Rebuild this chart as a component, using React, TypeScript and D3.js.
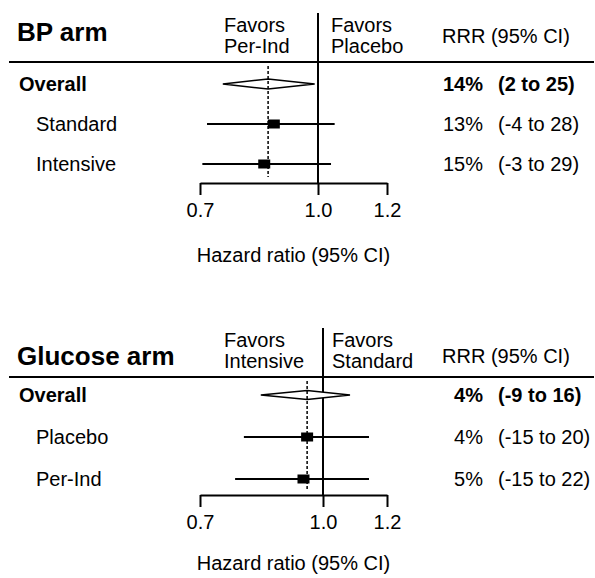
import { useEffect, useRef } from "react";
import * as d3 from "d3";

// BP arm
const bpRows = ["Overall", "Standard", "Intensive"];
const bpHR = [0.86, 0.875, 0.85];
const bpLow = [0.75, 0.715, 0.705];
const bpHigh = [0.99, 1.045, 1.035];
const bpRRR = ["14%", "13%", "15%"];
const bpCI = ["(2 to 25)", "(-4 to 28)", "(-3 to 29)"];

// Glucose arm
const gluRows = ["Overall", "Placebo", "Per-Ind"];
const gluHR = [0.955, 0.955, 0.945];
const gluLow = [0.835, 0.795, 0.775];
const gluHigh = [1.08, 1.14, 1.14];
const gluRRR = ["4%", "4%", "5%"];
const gluCI = ["(-9 to 16)", "(-15 to 20)", "(-15 to 22)"];

const tickValues = [0.7, 1.0, 1.2];

const FONT = "'Liberation Sans', Arial, Helvetica, sans-serif";

interface PanelProps {
    title: string;
    favorLeft: string[];
    favorRight: string[];
    rows: string[];
    hr: number[];
    low: number[];
    high: number[];
    rrr: string[];
    ci: string[];
    xRange: number[];
    titleY: number;
    favorY: number;
    rrrHeadY: number;
    lineY: number;
    vTop: number;
    rowTop: number;
    rowBottom: number;
    axisY: number;
    hazardY: number;
    favorRightX: number;
    diamondH: number;
}

function Panel(p: PanelProps) {
    const axisRef = useRef<SVGGElement>(null);

    const x = d3.scaleLog().domain(tickValues).range(p.xRange);
    const y = d3.scalePoint<string>().domain(p.rows).range([p.rowTop, p.rowBottom]);

    useEffect(() => {
        if (!axisRef.current) return;
        const g = d3.select(axisRef.current);
        g.selectAll("*").remove();
        g.call(
            d3.axisBottom(x)
                .tickValues(tickValues)
                .tickFormat(d3.format(".1f"))
                .tickSize(12)
                .tickSizeOuter(0)
                .tickPadding(8)
        );
        g.select(".domain").attr("stroke", "#000").attr("stroke-width", 2);
        g.selectAll(".tick line").attr("stroke", "#000").attr("stroke-width", 2);
        g.selectAll(".tick text")
            .attr("fill", "#000")
            .attr("font-size", 20)
            .attr("font-family", FONT);
    });

    const overall = p.hr[0];
    const yo = y(p.rows[0])!;
    const h = p.diamondH;
    const diamond = d3.line()([
        [x(p.low[0]), yo],
        [x(overall), yo - h],
        [x(p.high[0]), yo],
        [x(overall), yo + h],
    ]) + "Z";

    return (
        <g fontFamily={FONT} fill="#000">
            <text x={17} y={p.titleY} fontSize={26} fontWeight="bold">{p.title}</text>
            <text x={224} y={p.favorY} fontSize={20}>{p.favorLeft[0]}</text>
            <text x={224} y={p.favorY + 21} fontSize={20}>{p.favorLeft[1]}</text>
            <text x={p.favorRightX} y={p.favorY} fontSize={20}>{p.favorRight[0]}</text>
            <text x={p.favorRightX} y={p.favorY + 21} fontSize={20}>{p.favorRight[1]}</text>
            <text x={442} y={p.rrrHeadY} fontSize={20}>RRR (95% CI)</text>

            <line x1={9} x2={594} y1={p.lineY} y2={p.lineY} stroke="#000" strokeWidth={2} />
            <line x1={x(1)} x2={x(1)} y1={p.vTop} y2={p.axisY} stroke="#000" strokeWidth={2} />

            <path d={diamond} fill="#fff" stroke="#000" strokeWidth={1.5} />

            {/* dashed overall reference, drawn over the diamond */}
            <line
                x1={x(overall)} x2={x(overall)}
                y1={p.lineY + 4} y2={p.axisY - 6}
                stroke="#000" strokeWidth={1.5} strokeDasharray="3,2"
            />

            {p.rows.map((r, i) => {
                const yy = y(r)!;
                const bold = i === 0;
                return (
                    <g key={r}>
                        <text x={bold ? 19 : 36} y={yy} dy="0.35em" fontSize={20} fontWeight={bold ? "bold" : "normal"}>{r}</text>
                        <text x={483} y={yy} dy="0.35em" fontSize={20} textAnchor="end" fontWeight={bold ? "bold" : "normal"}>{p.rrr[i]}</text>
                        <text x={498} y={yy} dy="0.35em" fontSize={20} fontWeight={bold ? "bold" : "normal"}>{p.ci[i]}</text>
                        {i > 0 && (
                            <>
                                <line x1={x(p.low[i])} x2={x(p.high[i])} y1={yy} y2={yy} stroke="#000" strokeWidth={2} />
                                <rect x={x(p.hr[i]) - 6} y={yy - 4.5} width={12} height={9} fill="#000" />
                            </>
                        )}
                    </g>
                );
            })}

            <g ref={axisRef} transform={`translate(0,${p.axisY})`} />
            <text x={(p.xRange[0] + p.xRange[2]) / 2} y={p.hazardY} fontSize={20} textAnchor="middle">Hazard ratio (95% CI)</text>
        </g>
    );
}

export default function App() {
    return (
        <svg width={595} height={578} style={{ position: "absolute", left: 0, top: 0, background: "#fff" }}>
            <rect width={595} height={578} fill="#fff" />
            <Panel
                title="BP arm"
                favorLeft={["Favors", "Per-Ind"]}
                favorRight={["Favors", "Placebo"]}
                rows={bpRows} hr={bpHR} low={bpLow} high={bpHigh} rrr={bpRRR} ci={bpCI}
                xRange={[200, 318, 387]}
                titleY={41} favorY={32} rrrHeadY={43} lineY={62} vTop={13}
                rowTop={84} rowBottom={164} axisY={183} hazardY={262}
                favorRightX={331} diamondH={5}
            />
            <Panel
                title="Glucose arm"
                favorLeft={["Favors", "Intensive"]}
                favorRight={["Favors", "Standard"]}
                rows={gluRows} hr={gluHR} low={gluLow} high={gluHigh} rrr={gluRRR} ci={gluCI}
                xRange={[200, 323, 387]}
                titleY={365} favorY={347} rrrHeadY={363} lineY={377} vTop={328}
                rowTop={395} rowBottom={479} axisY={495} hazardY={570}
                favorRightX={332} diamondH={4.5}
            />
        </svg>
    );
}
